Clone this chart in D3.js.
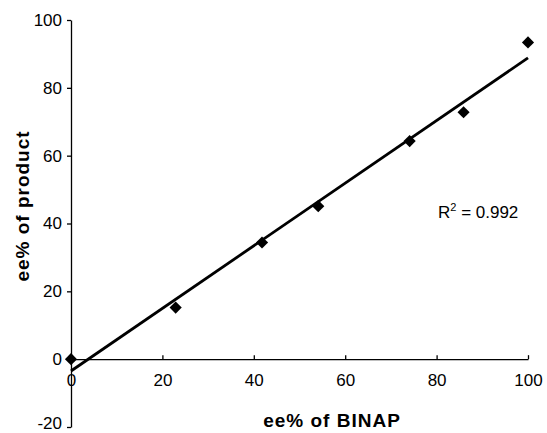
<!DOCTYPE html>
<html>
<head>
<meta charset="utf-8">
<script src="https://cdn.jsdelivr.net/npm/d3@7"></script>
<style>
  body { margin: 0; background: #fff; }
  text { font-family: "Liberation Sans", Arial, sans-serif; fill: #000; }
</style>
</head>
<body>
<div id="chart"></div>
<script>
// Data
const binapEE = [0, 22.9, 41.8, 54.1, 74.1, 85.9, 100]
const productEE = [0, 15.2, 34.4, 45.1, 64.3, 72.8, 93.4]
const xTicks = [0, 20, 40, 60, 80, 100]
const yTicks = [-20, 0, 20, 40, 60, 80, 100]
const r2Label = "0.992"

const width = 547
const height = 433

const svg = d3.select("#chart")
  .append("svg")
  .attr("width", width)
  .attr("height", height)

// Scales
const x = d3.scaleLinear().domain([0, 100]).range([71, 528])
const y = d3.scaleLinear().domain([-20, 100]).range([427, 20])

// plain hyphen for negatives, like the original
const fmt = (d) => String(d)

// Y axis (ticks outside)
const yaxis = d3.axisLeft(y).tickValues(yTicks).tickFormat(fmt).tickSizeInner(4).tickSizeOuter(0).tickPadding(5)
const g_yaxis = svg.append("g")
  .attr("transform", `translate(${x(0)},0)`)
  .call(yaxis)

// X axis sits on y = 0, ticks point up
const xaxis = d3.axisBottom(x).tickValues(xTicks).tickFormat(fmt).tickSizeInner(-4).tickSizeOuter(0).tickPadding(15)
const g_xaxis = svg.append("g")
  .attr("transform", `translate(0,${y(0)})`)
  .call(xaxis)

svg.selectAll(".domain").attr("stroke", "#000").attr("stroke-width", 1.3)
svg.selectAll(".tick line").attr("stroke", "#000").attr("stroke-width", 1.3)
svg.selectAll(".tick text")
  .style("font-size", "17px")
  .style("font-family", "'Liberation Sans', Arial, sans-serif")
  .attr("fill", "#000")

// lowest label sits on the bottom edge; lift it a little so it stays whole
g_yaxis.selectAll(".tick text").filter((d) => d === -20).attr("dy", "0.1em")

// Linear trendline fitted to the points
const pts = binapEE.map((v, i) => [v, productEE[i]])
const mx = d3.mean(binapEE), my = d3.mean(productEE)
const slope = d3.sum(pts, (d) => (d[0] - mx) * (d[1] - my)) / d3.sum(pts, (d) => (d[0] - mx) ** 2)
const intercept = my - slope * mx
const fit = d3.extent(binapEE).map((v) => [v, intercept + slope * v])

svg.append("path")
  .datum(fit)
  .attr("fill", "none")
  .attr("stroke", "#000")
  .attr("stroke-width", 2.8)
  .attr("d", d3.line().x((d) => x(d[0])).y((d) => y(d[1])))

// Diamond markers
const diamond = d3.symbol().type(d3.symbolSquare).size(74)
svg.append("g")
  .selectAll("path")
  .data(pts)
  .join("path")
  .attr("d", diamond)
  .attr("transform", (d) => `translate(${x(d[0])},${y(d[1])}) rotate(45)`)
  .attr("fill", "#000")

// R squared label
const r2 = svg.append("text")
  .attr("x", 438)
  .attr("y", 218)
  .style("font-size", "17px")
r2.append("tspan").text("R")
r2.append("tspan").attr("dy", -7).style("font-size", "11px").text("2")
r2.append("tspan").attr("dy", 7).text(" = " + r2Label)

// Axis titles
svg.append("text")
  .attr("x", 332)
  .attr("y", 427)
  .attr("text-anchor", "middle")
  .style("font-size", "19px")
  .style("font-weight", "bold")
  .style("letter-spacing", "1px")
  .text("ee% of BINAP")

svg.append("text")
  .attr("transform", `translate(29,206) rotate(-90)`)
  .attr("text-anchor", "middle")
  .style("font-size", "19px")
  .style("font-weight", "bold")
  .style("letter-spacing", "1px")
  .text("ee% of product")
</script>
</body>
</html>
